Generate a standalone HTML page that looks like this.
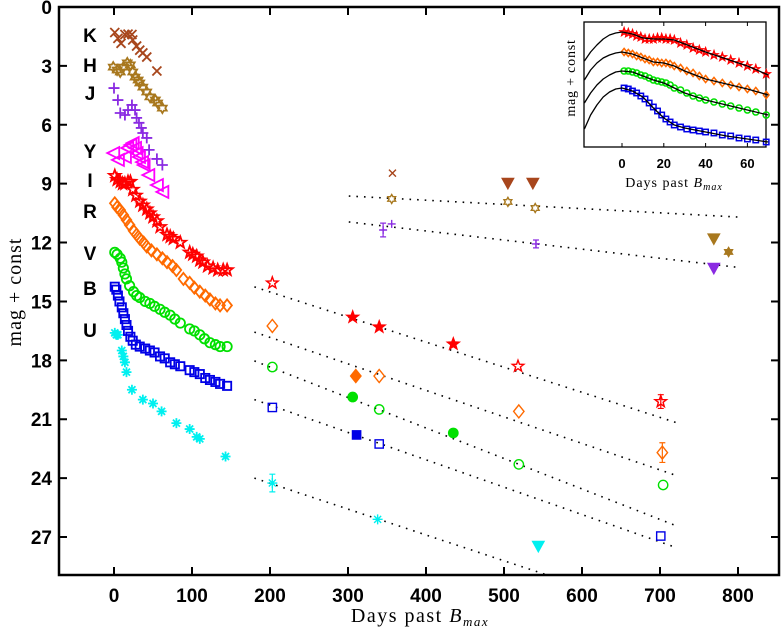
<!DOCTYPE html>
<html><head><meta charset="utf-8"><style>
html,body{margin:0;padding:0;background:#fff;}
svg{display:block;}
.tk{font-family:"Liberation Sans",sans-serif;font-weight:bold;font-size:19px;}
.itk{font-family:"Liberation Sans",sans-serif;font-weight:bold;font-size:13px;}
.ser{font-family:"Liberation Serif",serif;}
</style></head><body>
<svg id="chart" width="781" height="633" viewBox="0 0 781 633" xmlns="http://www.w3.org/2000/svg">
<defs><clipPath id="pc"><rect x="59" y="7" width="720" height="568"/></clipPath></defs>
<g id="marks" clip-path="url(#pc)"></g>
<g id="axes"></g>
<g id="inset"></g>
</svg>
<script>
// ---- main chart data ----
const kDays=[1,5,9,14,18,23,24,29,33,37,42,55];
const kMag=[1.3,1.6,1.85,1.4,1.38,1.4,1.68,1.99,2.2,2.34,2.55,3.26];
const hDays=[-1,4,8,12,17,21,24,27,31,33,37,42,46,53,56,62];
const hMag=[3.06,3.21,3.31,3.06,2.85,2.95,3.31,3.57,3.72,3.87,4.08,4.33,4.58,4.74,4.89,5.15];
const jDays=[0,5,8,14,18,23,27,29,32,35,37,42,45,55,62];
const jMag=[4.13,4.74,5.4,5.5,5.25,4.99,5.25,5.65,5.9,6.16,6.42,6.67,7.28,7.74,8.05];
const yDays=[-1,5,14,17,21,24,27,29,32,36,38,44,55,62];
const yMag=[7.44,7.79,7.64,7.18,7.03,6.93,7.18,7.44,7.64,7.9,8.05,8.56,9.07,9.42];
const iDays=[1,4,8,11,14,18,21,24,28,33,37,42,46,50,55,59,68,72,76,85,97,101,106,110,114,120,127,133,140,145];
const iMag=[8.6,8.8,8.9,9.0,9.0,8.9,8.9,9.3,9.6,9.9,10.1,10.3,10.5,10.7,10.9,11.2,11.6,11.7,11.8,12.0,12.5,12.6,12.7,12.9,13.0,13.2,13.3,13.4,13.4,13.4];
const rDays=[1,4,8,12,16,20,25,29,33,38,42,48,55,62,68,75,80,89,97,103,110,117,123,130,136,145];
const rMag=[10.0,10.2,10.35,10.6,10.85,11.1,11.4,11.6,11.8,12.0,12.2,12.4,12.6,12.8,13.0,13.2,13.4,13.85,14.05,14.3,14.5,14.7,14.9,15.1,15.2,15.2];
const vDays=[1,4,8,10,12,14,16,20,25,29,33,40,46,52,59,65,72,78,85,97,103,110,116,123,130,136,145];
const vMag=[12.5,12.6,12.8,13.0,13.3,13.6,13.85,14.2,14.5,14.7,14.8,15.0,15.1,15.25,15.4,15.55,15.7,15.9,16.1,16.4,16.5,16.7,16.9,17.1,17.2,17.3,17.3];
const bDays=[1,3,5,7,10,12,14,16,18,21,24,28,33,40,46,52,59,65,72,78,85,97,103,110,117,123,130,136,145];
const bMag=[14.25,14.4,14.7,15.0,15.3,15.6,15.9,16.2,16.5,16.8,17.0,17.2,17.3,17.4,17.5,17.6,17.8,17.9,18.1,18.2,18.3,18.5,18.6,18.7,18.9,19.0,19.1,19.2,19.3];
const uDays=[1,3,5,10,12,14,16,23,37,50,61,80,97,106,110,143];
const uMag=[16.6,16.7,16.7,17.5,17.8,18.1,18.6,19.5,20.0,20.2,20.6,21.2,21.5,21.9,22.0,22.9];
// late-time
const kLateDays=[357];const kLateMag=[8.46];
const kLimDays=[505,537];const kLimMag=[8.97,8.97];
const hLateDays=[356,505,540,788];const hLateMag=[9.78,9.93,10.24,12.48];
const hLimDays=[769];const hLimMag=[11.8];
const jLateDays=[345,356,541];const jLateMag=[11.36,11.05,12.07];
const jLimDays=[769];const jLimMag=[13.3];
const iLateDays=[203,306,340,435,518,701];const iLateMag=[14.06,15.8,16.3,17.17,18.3,20.1];const iLateFill=[0,1,1,1,0,0];const iLateErr=[0,0,0,0,0,0.35];
const rLateDays=[203,310,340,519,703];const rLateMag=[16.25,18.8,18.8,20.6,22.7];const rLateFill=[0,1,0,0,0];const rLateErr=[0,0,0,0,0.5];
const vLateDays=[203,306,340,435,519,704];const vLateMag=[18.34,19.87,20.5,21.7,23.3,24.35];const vLateFill=[0,1,0,1,0,0];
const bLateDays=[203,311,340,701];const bLateMag=[20.4,21.8,22.26,26.95];const bLateFill=[0,1,0,0];
const uLateDays=[203,338];const uLateMag=[24.25,26.1];const uLateErr=[0.45,0];
const uLimDays=[544];const uLimMag=[27.46];
// dotted decline lines: [startDay,startMag,endDay,endMag]
const lineH=[301,9.63,800,10.7];
const lineJ=[301,10.95,797,13.25];
const lineI=[180,14.26,723,21.2];
const lineR=[180,16.56,719,23.84];
const lineV=[180,18.03,719,26.4];
const lineB=[180,20.0,718,27.5];
const lineU=[180,24.0,560,29.0];
const xTicks=[0,100,200,300,400,500,600,700,800];
const yTicks=[0,3,6,9,12,15,18,21,24,27];
const bandLabels=["K","H","J","Y","I","R","V","B","U"];
const bandLabelMag=[1.47,3.0,4.43,7.38,8.86,10.44,12.58,14.37,16.5];
// ---- inset data ----
const insetCurveDays=[-18,-15,-12,-9,-6,-3,0,5,10,15,20,25,30,40,50,60,70];
const insetCurveI=[3.9,3.0,2.3,1.7,1.3,1.1,1.0,1.2,1.6,1.7,1.7,1.8,2.2,3.0,3.7,4.4,5.3];
const insetCurveR=[5.8,4.8,4.1,3.6,3.3,3.1,3.0,3.2,3.6,4.0,4.1,4.4,4.9,5.7,6.2,6.7,7.3];
const insetCurveV=[8.1,7.1,6.3,5.7,5.3,5.0,4.9,5.0,5.4,5.8,6.1,6.6,7.1,7.8,8.3,8.8,9.3];
const insetCurveB=[10.7,9.3,8.3,7.5,7.0,6.7,6.6,6.9,7.5,8.6,9.6,10.3,10.6,11.0,11.4,11.7,12.0];
const insetDays=[1,3,5,7,9,11,13,15,17,19,21,23,25,28,31,34,37,40,44,48,52,56,60,64,69];
const insetI=[1.0,1.1,1.2,1.4,1.5,1.7,1.7,1.7,1.6,1.6,1.7,1.7,1.8,2.1,2.3,2.6,2.8,3.0,3.3,3.5,3.8,4.1,4.4,4.7,5.2];
const insetR=[3.0,3.1,3.2,3.4,3.5,3.7,3.8,4.0,4.0,4.1,4.1,4.2,4.4,4.6,4.9,5.1,5.4,5.7,5.9,6.1,6.3,6.5,6.7,6.9,7.3];
const insetV=[4.9,4.9,5.0,5.1,5.3,5.4,5.6,5.8,5.9,6.0,6.1,6.3,6.6,6.8,7.1,7.4,7.6,7.8,8.0,8.2,8.4,8.6,8.8,9.0,9.3];
const insetB=[6.6,6.7,6.9,7.1,7.4,7.7,8.1,8.5,8.9,9.3,9.7,10.0,10.3,10.5,10.7,10.8,10.9,11.0,11.1,11.3,11.4,11.6,11.7,11.8,12.0];
const insetXTicks=[0,20,40,60];

const NS="http://www.w3.org/2000/svg";
const X=d=>114+0.78*d;
const Y=m=>7+19.63*m;
const IX=d=>622+2.09*d;
const IY=m=>22+10*m;
let SW=1.8;
function el(tag,attrs,parent){const e=document.createElementNS(NS,tag);for(const k in attrs)e.setAttribute(k,attrs[k]);parent.appendChild(e);return e;}
const marks=document.getElementById('marks');
const axes=document.getElementById('axes');
const inset=document.getElementById('inset');
const COL={K:'#a8461c',H:'#a8781e',J:'#8a2be2',Y:'#ff00ff',I:'#ff0000',R:'#ff6a00',V:'#00e000',B:'#0000e6',U:'#00f0f0'};

function starPts(cx,cy,r,n,ri){let p=[];for(let i=0;i<2*n;i++){const a=-Math.PI/2+i*Math.PI/n;const rr=i%2?ri:r;p.push((cx+rr*Math.cos(a)).toFixed(1)+','+(cy+rr*Math.sin(a)).toFixed(1));}return p.join(' ');}
function marker(type,cx,cy,s,col,fill,parent){
  const f=fill?col:'none';let e;
  if(type==='x'){e=el('path',{d:`M${cx-s} ${cy-s}L${cx+s} ${cy+s}M${cx-s} ${cy+s}L${cx+s} ${cy-s}`,stroke:col,'stroke-width':SW,fill:'none'},parent);}
  else if(type==='+'){e=el('path',{d:`M${cx-s} ${cy}L${cx+s} ${cy}M${cx} ${cy-s}L${cx} ${cy+s}`,stroke:col,'stroke-width':SW,fill:'none'},parent);}
  else if(type==='*'){const a=s*0.7;e=el('path',{d:`M${cx-s} ${cy}L${cx+s} ${cy}M${cx} ${cy-s}L${cx} ${cy+s}M${cx-a} ${cy-a}L${cx+a} ${cy+a}M${cx-a} ${cy+a}L${cx+a} ${cy-a}`,stroke:col,'stroke-width':SW,fill:'none'},parent);}
  else if(type==='hex'){e=el('polygon',{points:starPts(cx,cy,s,6,s*0.58),stroke:col,'stroke-width':SW,fill:fill?col:'none'},parent);}
  else if(type==='star'){e=el('polygon',{points:starPts(cx,cy,s*1.1,5,s*0.45),stroke:col,'stroke-width':SW,fill:f},parent);}
  else if(type==='tri-l'){e=el('polygon',{points:`${cx-s},${cy} ${cx+s},${cy-s} ${cx+s},${cy+s}`,stroke:col,'stroke-width':SW,fill:f},parent);}
  else if(type==='tri-d'){e=el('polygon',{points:`${cx-s},${cy-s*0.8} ${cx+s},${cy-s*0.8} ${cx},${cy+s}`,stroke:col,'stroke-width':1,fill:col},parent);}
  else if(type==='dia'){e=el('polygon',{points:`${cx},${cy-s} ${cx+s*0.8},${cy} ${cx},${cy+s} ${cx-s*0.8},${cy}`,stroke:col,'stroke-width':SW,fill:f},parent);}
  else if(type==='o'){e=el('circle',{cx:cx,cy:cy,r:s*0.85,stroke:col,'stroke-width':SW,fill:f},parent);}
  else if(type==='sq'){const a=s*0.75;e=el('rect',{x:cx-a,y:cy-a,width:2*a,height:2*a,stroke:col,'stroke-width':SW,fill:f},parent);}
  return e;
}
function series(band,type,days,mags,fills,errs,size,nameSuffix){
  const g=el('g',{},marks);
  
  
  days.forEach((d,i)=>{
    const cx=X(d),cy=Y(mags[i]);
    if(errs&&errs[i]){const eb=el('path',{d:`M${cx} ${Y(mags[i]-errs[i])}L${cx} ${Y(mags[i]+errs[i])}M${cx-3} ${Y(mags[i]-errs[i])}L${cx+3} ${Y(mags[i]-errs[i])}M${cx-3} ${Y(mags[i]+errs[i])}L${cx+3} ${Y(mags[i]+errs[i])}`,stroke:COL[band],'stroke-width':1.2,fill:'none'},g);
      
      }
    const m=marker(type,cx,cy,size,COL[band],fills?fills[i]:0,g);
    
    
  });
}
function dotted(arr,name){
  const l=el('line',{x1:X(arr[0]),y1:Y(arr[1]),x2:X(arr[2]),y2:Y(arr[3]),stroke:'#000','stroke-width':1.6,'stroke-dasharray':'1.6 6'},marks);
  
  
}
dotted(lineH,'h-decline-line');dotted(lineJ,'j-decline-line');dotted(lineI,'i-decline-line');dotted(lineR,'r-decline-line');
dotted(lineV,'v-decline-line');dotted(lineB,'b-decline-line');dotted(lineU,'u-decline-line');
series('K','x',kDays,kMag,null,null,4.5,'early');
series('H','hex',hDays,hMag,null,null,5,'early');
series('J','+',jDays,jMag,null,null,5.5,'early');
series('Y','tri-l',yDays,yMag,null,null,6,'early');
series('I','star',iDays,iMag,null,null,5.5,'early');
series('R','dia',rDays,rMag,null,null,6,'early');
series('V','o',vDays,vMag,null,null,5.5,'early');
series('B','sq',bDays,bMag,null,null,5.5,'early');
series('U','*',uDays,uMag,null,null,5,'early');
SW=1.4;
series('K','x',kLateDays,kLateMag,null,null,3.5,'late');
series('K','tri-d',kLimDays,kLimMag,null,null,6,'limits');
series('H','hex',hLateDays,hLateMag,[0,0,0,1],null,4.5,'late');
series('H','tri-d',hLimDays,hLimMag,null,null,6,'limits');
series('J','+',jLateDays,jLateMag,null,[0.35,0,0.2],4,'late');
series('J','tri-d',jLimDays,jLimMag,null,null,6,'limits');
series('I','star',iLateDays,iLateMag,iLateFill,iLateErr,5.5,'late');
series('R','dia',rLateDays,rLateMag,rLateFill,rLateErr,6.5,'late');
series('V','o',vLateDays,vLateMag,vLateFill,null,5.5,'late');
series('B','sq',bLateDays,bLateMag,bLateFill,null,5.5,'late');
series('U','*',uLateDays,uLateMag,null,uLateErr,5,'late');
series('U','tri-d',uLimDays,uLimMag,null,null,6,'limits');

// band labels
bandLabels.forEach((b,i)=>{
  const t=el('text',{x:90,y:Y(bandLabelMag[i])+6,'text-anchor':'middle',class:'tk'},axes);
  t.textContent=b;
  
  
});
// frame & ticks
const fr=el('rect',{x:59,y:7,width:720,height:568,fill:'none',stroke:'#000','stroke-width':2.5},axes);


xTicks.forEach(v=>{
  const x=X(v);
  const tk=el('path',{d:`M${x} 575L${x} 567M${x} 7L${x} 15`,stroke:'#000','stroke-width':2},axes);
  
  
  const t=el('text',{x:x,y:602,'text-anchor':'middle',class:'tk'},axes);t.textContent=v;
  
  
});
yTicks.forEach(v=>{
  const y=Y(v);
  const tk=el('path',{d:`M59 ${y}L67 ${y}M779 ${y}L771 ${y}`,stroke:'#000','stroke-width':2},axes);
  
  
  const t=el('text',{x:52,y:y+7,'text-anchor':'end',class:'tk'},axes);t.textContent=v;
  
  
});
const xl=el('text',{x:420,y:622,'text-anchor':'middle',class:'ser','font-size':20,'letter-spacing':'1.5'},axes);
xl.innerHTML='Days past <tspan font-style="italic">B</tspan><tspan font-style="italic" font-size="13" dy="4">max</tspan>';


const yl=el('text',{x:0,y:0,'text-anchor':'middle',class:'ser','font-size':20,'letter-spacing':'1',transform:'translate(21,292) rotate(-90)'},axes);
yl.textContent='mag + const';



// inset
const ibg=el('rect',{x:584,y:22,width:182,height:125,fill:'#fff',stroke:'#000','stroke-width':1.3},inset);


const ig=el('g',{},inset);


SW=1.5;
const icurves=[['I',insetCurveI,insetI,'star'],['R',insetCurveR,insetR,'dia'],['V',insetCurveV,insetV,'o'],['B',insetCurveB,insetB,'sq']];
icurves.forEach(([b,cv,pts,type])=>{
  pts.forEach((m,i)=>{const mk=marker(type,IX(insetDays[i]),IY(m),3.6,COL[b],0,ig);
    
    });
  const d=insetCurveDays.map((dd,i)=>(i?'L':'M')+IX(dd).toFixed(1)+' '+IY(cv[i]).toFixed(1)).join('');
  const p=el('path',{d:d,fill:'none',stroke:'#000','stroke-width':1.3,'stroke-linejoin':'round'},ig);
  
  
});
insetXTicks.forEach(v=>{
  const x=IX(v);
  const tk=el('path',{d:`M${x} 147L${x} 143M${x} 22L${x} 26`,stroke:'#000','stroke-width':1},inset);
  
  
  const t=el('text',{x:x,y:168,'text-anchor':'middle',class:'itk'},inset);t.textContent=v;
  
  
});
const ixl=el('text',{x:674,y:187,'text-anchor':'middle',class:'ser','font-size':14,'letter-spacing':'1'},inset);
ixl.innerHTML='Days past <tspan font-style="italic">B</tspan><tspan font-style="italic" font-size="10" dy="3">max</tspan>';


const iyl=el('text',{x:0,y:0,'text-anchor':'middle',class:'ser','font-size':14,'letter-spacing':'0.8',transform:'translate(575,78) rotate(-90)'},inset);
iyl.textContent='mag + const';


</script>
</body></html>
